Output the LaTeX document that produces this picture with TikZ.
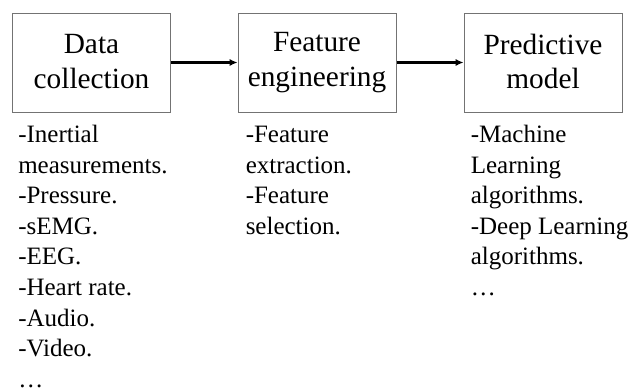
\documentclass[tikz,border=0pt]{standalone}
\usepackage{fontspec}
\setmainfont{Liberation Serif}
\usepackage{tikz}
\usetikzlibrary{arrows.meta,calc}
\tikzset{
  stage/.style={draw=black!55,line width=0.75pt,minimum width=118.5pt,minimum height=74.25pt,
    align=center,inner sep=0pt,font=\fontsize{22}{26}\selectfont},
  flow/.style={-{Latex[length=6pt,width=5.5pt]},line width=1.6pt},
  notes/.style={anchor=north west,align=left,inner sep=0pt,font=\fontsize{18.75}{22.95}\selectfont}
}

\begin{document}
\begin{tikzpicture}[x=0.75pt,y=-0.75pt]
    \useasboundingbox (0,0) rectangle (630,387);

    \node[stage] (collect) at (91.5,62.5) {Data\\collection\rule[-2pt]{0pt}{0pt}};
    \node[stage] (engineer) at (317,62.5) {Feature\\engineering};
    \node[stage] (model) at (543,62.5) {Predictive\\model\rule[-2pt]{0pt}{0pt}};

    \draw[flow] (collect) -- (engineer);
    \draw[flow] (engineer) -- (model);

    % lists below each stage
    \node[notes] (collectnotes) at ($(collect.south west)+(6,8.3)$)
      {\strut-Inertial\\measurements.\\-Pressure.\\-sEMG.\\-EEG.\\-Heart rate.\\-Audio.\\-Video.\\\dots};
    \node[notes] (engineernotes) at ($(engineer.south west)+(8,8.3)$)
      {\strut-Feature\\extraction.\\-Feature\\selection.};
    \node[notes] (modelnotes) at ($(model.south west)+(7,8.3)$)
      {\strut-Machine\\Learning\\algorithms.\\-Deep Learning\\algorithms.\\\dots};
\end{tikzpicture}
\end{document}
